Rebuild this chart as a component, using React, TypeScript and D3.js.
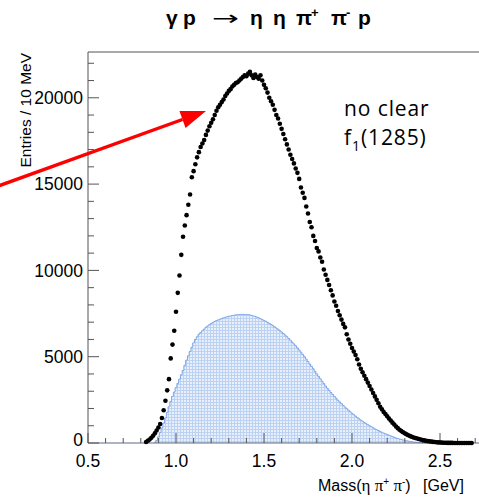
import React from "react";
import * as d3 from "d3";

const BIN = 0.01;
const DATA_START = 0.83;
const dataCounts = [
  60, 130, 200, 300, 420, 560, 720,
  900, 1100, 1450, 1900, 2450, 3050, 3700, 4900, 5700, 6500,
  7600, 8700, 9700, 10900, 11950, 12600, 13200, 13800, 14400, 15400,
  15750, 16150, 16550, 16850, 17150, 17350, 17550, 17850, 18100, 18350,
  18550, 18750, 19000, 19250, 19450, 19600, 19750, 19900, 20100, 20250,
  20400, 20500, 20650, 20750, 20850, 20900, 21000, 21100, 21200, 21300,
  21250, 21400, 21500, 21300, 21150, 21350, 21200, 21100, 21300, 21000,
  20750, 20550, 20300, 20000, 19800, 19600, 19300, 19000, 18800, 18500,
  18200, 17900, 17600, 17300, 17000, 16700, 16450, 16200, 15900, 15650,
  15300, 14800, 14500, 14200, 13700, 13300, 12800, 12500, 12000, 11700,
  11300, 11100, 10750, 10500, 10050, 9750, 9450, 9150, 8850, 8550,
  8200, 7950, 7650, 7400, 7150, 6900, 6700, 6300, 6000, 5750,
  5500, 5300, 5100, 4850, 4550, 4300, 4100, 3900, 3700, 3500,
  3300, 3100, 2900, 2700, 2500, 2300, 2100, 1950, 1800, 1680,
  1550, 1420, 1300, 1180, 1070, 960, 860, 770, 690, 620,
  560, 500, 450, 400, 360, 320, 290, 260, 230, 200,
  170, 150, 130, 110, 95, 80, 65, 55, 45, 35,
  28, 22, 17, 13, 10, 8, 6, 5, 4, 3,
  3, 2, 2, 1, 1, 1, 0, 0, 0,
];

const MC_START = 0.88;
const mcCounts = [
  40, 150,
  350, 600, 870, 1150, 1450, 1780, 2100, 2400, 2700, 2950,
  3200, 3450, 3700, 3950, 4200, 4500, 4800, 5050, 5300, 5550,
  5800, 6000, 6150, 6300, 6400, 6500, 6600, 6700, 6780, 6850,
  6920, 6980, 7040, 7090, 7130, 7170, 7210, 7250, 7280, 7310,
  7340, 7360, 7380, 7400, 7420, 7430, 7440, 7450, 7450, 7440,
  7440, 7430, 7420, 7390, 7360, 7330, 7290, 7250, 7200, 7150,
  7100, 7050, 6990, 6930, 6870, 6800, 6730, 6660, 6590, 6510,
  6430, 6340, 6250, 6160, 6060, 5960, 5850, 5740, 5630, 5510,
  5390, 5260, 5130, 5000, 4860, 4720, 4580, 4440, 4300, 4150,
  4000, 3860, 3720, 3580, 3440, 3300, 3170, 3050, 2930, 2810,
  2700, 2590, 2480, 2380, 2280, 2180, 2080, 1990, 1900, 1810,
  1720, 1640, 1560, 1480, 1400, 1330, 1260, 1190, 1120, 1060,
  1000, 940, 880, 820, 770, 720, 670, 620, 570, 530,
  490, 450, 410, 370, 330, 290, 260, 230, 200, 175,
  150, 130, 110, 90, 75, 60, 48, 38, 30, 22,
  16, 10, 6, 3,
];

const xMajorTicks = [0.5, 1.0, 1.5, 2.0, 2.5];
const xMajorLabels = ["0.5", "1.0", "1.5", "2.0", "2.5"];
const xMinorTicks = [0.6, 0.7, 0.8, 0.9, 1.1, 1.2, 1.3, 1.4, 1.6, 1.7, 1.8, 1.9, 2.1, 2.2, 2.3, 2.4, 2.6, 2.7];
const yMajorTicks = [0, 5000, 10000, 15000, 20000];
const yMinorTicks = [1000, 2000, 3000, 4000, 6000, 7000, 8000, 9000, 11000, 12000, 13000, 14000, 16000, 17000, 18000, 19000, 21000, 22000];

const titleParts = [
  { t: "γ", x: 166, sup: false },
  { t: "p", x: 183, sup: false },
  { t: "→", x: 212, sup: false },
  { t: "η", x: 250, sup: false },
  { t: "η", x: 273, sup: false },
  { t: "π", x: 296, sup: false },
  { t: "+", x: 311, sup: true },
  { t: "π", x: 331, sup: false },
  { t: "-", x: 346, sup: true },
  { t: "p", x: 358, sup: false },
];

export default function App() {
  const left = 88;
  const top = 52;
  const bottom = 443;
  const right = 479;
  const x = d3.scaleLinear().domain([0.5, 2.72]).range([left, left + 2.22 * 176]);
  const y = d3.scaleLinear().domain([0, 22653]).range([bottom, top]);

  const dataPts = dataCounts.map((v, i) => ({ m: DATA_START + i * BIN, v }));
  const mcEdges: { m: number; v: number }[] = [];
  mcCounts.forEach((v, i) => {
    mcEdges.push({ m: MC_START + i * BIN - BIN / 2, v });
  });
  mcEdges.push({ m: MC_START + mcCounts.length * BIN - BIN / 2, v: 0 });

  const area = d3
    .area<{ m: number; v: number }>()
    .x((d) => x(d.m))
    .y0(y(0))
    .y1((d) => y(d.v))
    .curve(d3.curveStepAfter);
  const line = d3
    .line<{ m: number; v: number }>()
    .x((d) => x(d.m))
    .y((d) => y(d.v))
    .curve(d3.curveStepAfter);

  const sans = "'Liberation Sans', Arial, Helvetica, sans-serif";
  const serif = "'Liberation Serif', 'Times New Roman', serif";
  const axisColor = "#555";

  // arrow geometry
  const tip = [206, 111];
  const tail = [-10, 189];
  const ang = Math.atan2(tip[1] - tail[1], tip[0] - tail[0]);
  const headLen = 25;
  const headHalf = 9;
  const bx = tip[0] - headLen * Math.cos(ang);
  const by = tip[1] - headLen * Math.sin(ang);
  const p1 = [bx + headHalf * Math.sin(ang), by - headHalf * Math.cos(ang)];
  const p2 = [bx - headHalf * Math.sin(ang), by + headHalf * Math.cos(ang)];

  return (
    <svg width={479} height={499} style={{ position: "absolute", left: 0, top: 0, background: "#fff" }}>
      <defs>
        <pattern id="hatch" width={3} height={3} patternUnits="userSpaceOnUse">
          <rect width={3} height={3} fill="#e9f0fb" />
          <rect x={0} y={0} width={1} height={3} fill="#bcd2f3" />
          <rect x={0} y={0} width={3} height={1} fill="#bcd2f3" />
        </pattern>
      </defs>
      <rect width={479} height={499} fill="#fff" />

      {/* title */}
      {titleParts.map((p, i) =>
        p.t === "→" ? (
          <text
            key={i}
            x={p.x}
            y={25}
            fontFamily="'DejaVu Sans', sans-serif"
            fontSize={20}
            textLength={27}
            lengthAdjust="spacingAndGlyphs"
            fill="#000"
          >
            {p.t}
          </text>
        ) : (
          <text
            key={i}
            x={p.x}
            y={p.sup ? 17 : 25}
            fontFamily={sans}
            fontWeight="bold"
            fontSize={p.sup ? 13 : 21}
            fill="#000"
          >
            {p.t}
          </text>
        )
      )}

      {/* MC histogram */}
      <path d={area(mcEdges) || ""} fill="url(#hatch)" stroke="none" />
      <path d={line(mcEdges) || ""} fill="none" stroke="#7ea5e4" strokeWidth={1} />

      {/* frame */}
      <line x1={left} x2={right} y1={top} y2={top} stroke={axisColor} strokeWidth={1} />
      <line x1={left} x2={left} y1={top} y2={bottom} stroke={axisColor} strokeWidth={1} />
      <line x1={left} x2={right} y1={bottom} y2={bottom} stroke="#5f6b86" strokeWidth={1.2} />

      {/* y ticks */}
      {yMajorTicks.map((t) => (
        <g key={"ym" + t}>
          <line x1={left} x2={left + 11} y1={y(t)} y2={y(t)} stroke={axisColor} />
          <text
            x={83}
            y={t === 0 ? y(t) - 3 : y(t)}
            dy="0.36em"
            textAnchor="end"
            fontFamily={sans}
            fontSize={17.5}
            fill="#000"
          >
            {t}
          </text>
        </g>
      ))}
      {yMinorTicks.map((t) => (
        <line key={"yn" + t} x1={left} x2={left + 6} y1={y(t)} y2={y(t)} stroke={axisColor} />
      ))}

      {/* x ticks */}
      {xMajorTicks.map((t, i) => (
        <g key={"xm" + t}>
          <line x1={x(t)} x2={x(t)} y1={bottom} y2={bottom - 10} stroke={axisColor} />
          <text x={x(t)} y={467} textAnchor="middle" fontFamily={sans} fontSize={17.5} fill="#000">
            {xMajorLabels[i]}
          </text>
        </g>
      ))}
      {xMinorTicks.map((t) => (
        <line key={"xn" + t} x1={x(t)} x2={x(t)} y1={bottom} y2={bottom - 5} stroke={axisColor} />
      ))}

      {/* data points */}
      {dataPts.map((d, i) => (
        <circle key={i} cx={x(d.m)} cy={y(d.v)} r={2.3} fill="#000" />
      ))}

      {/* axis titles */}
      <text
        transform="translate(31,53) rotate(-90)"
        textAnchor="end"
        fontFamily={sans}
        fontSize={15.5}
        fill="#000"
      >
        Entries / 10 MeV
      </text>
      <text x={318} y={491} fontFamily={sans} fontSize={16} fill="#000">
        <tspan>Mass(</tspan>
        <tspan fontFamily={serif} fontSize={17}>η π</tspan>
        <tspan dy={-6} fontSize={10}>+</tspan>
        <tspan dy={6} fontFamily={serif} fontSize={17}> π</tspan>
        <tspan dy={-6} fontSize={10}>-</tspan>
        <tspan dy={6}>)</tspan>
        <tspan x={423}>[GeV]</tspan>
      </text>

      {/* annotation */}
      <text x={344} y={116} fontFamily="'Open Sans', sans-serif" fontSize={21} letterSpacing={0.9} fill="#000">
        no clear
      </text>
      <text x={344} y={145} fontFamily="'Open Sans', sans-serif" fontSize={21} letterSpacing={0.9} fill="#000">
        <tspan>f</tspan>
        <tspan dy={6} fontSize={14}>1</tspan>
        <tspan dy={-6}>(1285)</tspan>
      </text>

      {/* red arrow */}
      <line x1={tail[0]} y1={tail[1]} x2={bx} y2={by} stroke="#ff0000" strokeWidth={3.4} />
      <polygon points={`${tip[0]},${tip[1]} ${p1[0]},${p1[1]} ${p2[0]},${p2[1]}`} fill="#ff0000" />
    </svg>
  );
}
